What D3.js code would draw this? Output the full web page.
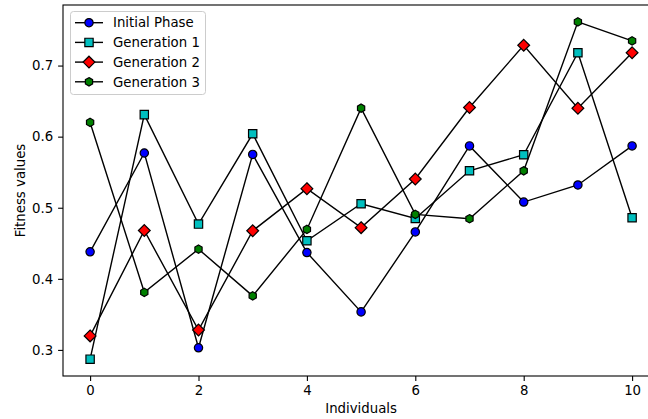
<!DOCTYPE html>
<html><head><meta charset="utf-8">
<script src="https://cdn.jsdelivr.net/npm/d3@7"></script>
<style>body{margin:0;background:#fff}svg{display:block;font-family:"DejaVu Sans",sans-serif}</style>
</head><body><svg id="c" width="648" height="419"></svg>
<script>
const individuals = [0,1,2,3,4,5,6,7,8,9,10];
const initialPhase = [0.438,0.577,0.303,0.575,0.437,0.3535,0.466,0.587,0.508,0.532,0.587];
const generation1 = [0.287,0.631,0.477,0.604,0.4535,0.5056,0.485,0.552,0.5746,0.718,0.486];
const generation2 = [0.3197,0.468,0.328,0.4676,0.5268,0.472,0.5404,0.641,0.7286,0.640,0.718];
const generation3 = [0.620,0.381,0.4418,0.376,0.4695,0.640,0.4906,0.4845,0.552,0.7615,0.7348];
const seriesNames = ["Initial Phase","Generation 1","Generation 2","Generation 3"];
const xTicks = [0,2,4,6,8,10];
const yTicks = [0.3,0.4,0.5,0.6,0.7];

const series = [
  {name:seriesNames[0], values:initialPhase, color:"#0000ff", shape:"circle"},
  {name:seriesNames[1], values:generation1, color:"#00bfbf", shape:"square"},
  {name:seriesNames[2], values:generation2, color:"#ff0000", shape:"diamond"},
  {name:seriesNames[3], values:generation3, color:"#008000", shape:"hexagon"}
];

const FS = "13.3px";
const svg = d3.select("#c");
const L=63, R=659.2, T=5, B=376;
const x = d3.scaleLinear().domain([-0.5,10.5]).range([L,R]);
const y = d3.scaleLinear().domain([0.2633,0.7852]).range([B,T]);

function markerPath(shape){
  const ms = 8.33;
  if(shape==="circle") return d3.symbol().type(d3.symbolCircle).size(Math.PI*(ms/2)*(ms/2))();
  if(shape==="square"){const h=ms/2;return `M${-h},${-h}H${h}V${h}H${-h}Z`;}
  if(shape==="diamond"){const h=ms/Math.SQRT2;return `M0,${-h}L${h},0L0,${h}L${-h},0Z`;}
  if(shape==="hexagon"){const r=ms/2;let p=[];for(let i=0;i<6;i++){const a=-Math.PI/2+i*Math.PI/3;p.push([r*Math.cos(a),r*Math.sin(a)]);}return "M"+p.map(d=>d.join(",")).join("L")+"Z";}
}

const plot = svg.append("g");
svg.append("defs").append("clipPath").attr("id","clip").append("rect").attr("x",L).attr("y",T).attr("width",R-L).attr("height",B-T);
const g = plot.append("g").attr("clip-path","url(#clip)");

const line = d3.line().x((d,i)=>x(individuals[i])).y(d=>y(d));
series.forEach(s=>{
  g.append("path").attr("d",line(s.values)).attr("fill","none").attr("stroke","#000").attr("stroke-width",1.4);
  g.selectAll(null).data(s.values).enter().append("path")
    .attr("d",markerPath(s.shape))
    .attr("transform",(d,i)=>`translate(${x(individuals[i])},${y(d)})`)
    .attr("fill",s.color).attr("stroke","#000").attr("stroke-width",1.2);
});

// axes
const xAxis = d3.axisBottom(x).tickValues(xTicks).tickSize(4.9).tickPadding(4.9).tickFormat(d3.format("d"));
const yAxis = d3.axisLeft(y).tickValues(yTicks).tickSize(4.9).tickPadding(4.9).tickFormat(d3.format(".1f"));
const gx = svg.append("g").attr("transform",`translate(0,${B})`).call(xAxis);
const gy = svg.append("g").attr("transform",`translate(${L},0)`).call(yAxis);
[gx,gy].forEach(a=>{
  a.select(".domain").remove();
  a.selectAll(".tick line").attr("stroke","#000").attr("stroke-width",1.1);
  a.selectAll(".tick text").attr("fill","#000").attr("font-size",FS).attr("font-family","DejaVu Sans");
});
// spines
svg.append("rect").attr("x",L).attr("y",T).attr("width",R-L).attr("height",B-T)
  .attr("fill","none").attr("stroke","#000").attr("stroke-width",1.1);

svg.append("text").attr("x",(L+R)/2).attr("y",413).attr("text-anchor","middle")
  .attr("font-size",FS).text("Individuals");
svg.append("text").attr("transform",`translate(25,${(T+B)/2}) rotate(-90)`).attr("text-anchor","middle")
  .attr("font-size",FS).text("Fitness values");

// legend
const lg = svg.append("g");
lg.append("rect").attr("x",70.5).attr("y",11.5).attr("width",135).attr("height",83).attr("rx",3)
  .attr("fill","#fff").attr("fill-opacity",0.8).attr("stroke","#cccccc").attr("stroke-width",1);
series.forEach((s,i)=>{
  const cy = 22.7 + i*19.7;
  lg.append("line").attr("x1",75).attr("x2",103).attr("y1",cy).attr("y2",cy).attr("stroke","#000").attr("stroke-width",1.4);
  lg.append("path").attr("d",markerPath(s.shape)).attr("transform",`translate(89,${cy})`)
    .attr("fill",s.color).attr("stroke","#000").attr("stroke-width",1.2);
  lg.append("text").attr("x",113).attr("y",cy).attr("dy","0.36em").attr("font-size",FS).text(s.name);
});
</script></body></html>
